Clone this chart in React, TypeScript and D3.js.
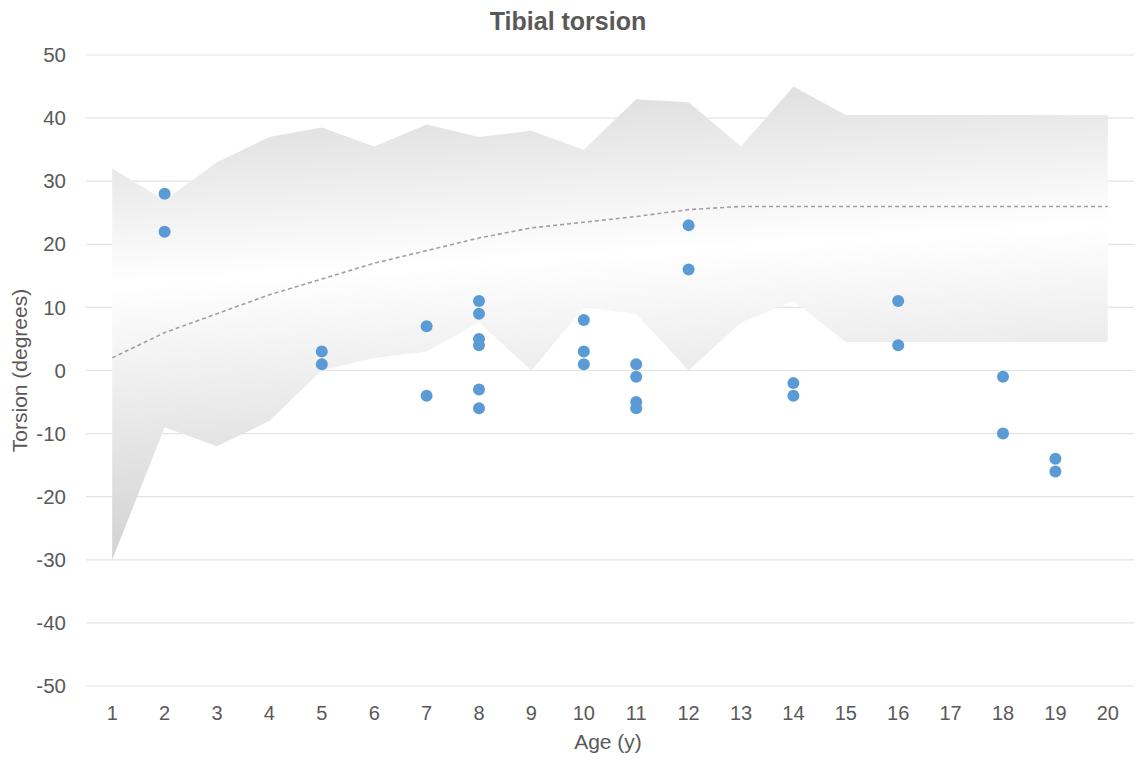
import * as d3 from "d3";
import React from "react";

// ages on the category axis
const ages = ["1", "2", "3", "4", "5", "6", "7", "8", "9", "10", "11", "12", "13", "14", "15", "16", "17", "18", "19", "20"];
// normal range (upper / lower bound) and mean
const upper = [32, 27, 33, 37, 38.5, 35.5, 39, 37, 38, 35, 43, 42.5, 35.5, 45, 40.5, 40.5, 40.5, 40.5, 40.5, 40.5];
const lower = [-30, -9, -12, -8, 0, 2, 3, 7.6, 0, 10, 9, 0, 7.6, 11, 4.5, 4.5, 4.5, 4.5, 4.5, 4.5];
const mean = [2, 6, 9, 12, 14.5, 17, 19, 21, 22.6, 23.5, 24.4, 25.5, 26, 26, 26, 26, 26, 26, 26, 26];
// patients
const pointAges = ["2", "2", "5", "5", "7", "7", "8", "8", "8", "8", "8", "8", "10", "10", "10", "11", "11", "11", "11", "12", "12", "14", "14", "16", "16", "18", "18", "19", "19"];
const pointValues = [28, 22, 3, 1, 7, -4, 11, 9, 5, 4, -3, -6, 8, 3, 1, 1, -1, -5, -6, 23, 16, -2, -4, 11, 4, -1, -10, -14, -16];
const yTicks = [-50, -40, -30, -20, -10, 0, 10, 20, 30, 40, 50];

const width = 1148;
const height = 761;
const margin = { top: 55, right: 14, bottom: 75, left: 86 };
const font = "'Liberation Sans', Arial, sans-serif";
const textColor = "#595959";

export default function App() {
    const x = d3
        .scaleBand()
        .domain(ages)
        .range([margin.left, width - margin.right]);
    const cx = (a: string) => (x(a) as number) + x.bandwidth() / 2;
    const y = d3
        .scaleLinear()
        .domain([-50, 50])
        .range([height - margin.bottom, margin.top]);

    const band = d3
        .area<number>()
        .x((d, i) => cx(ages[i]))
        .y0((d, i) => y(lower[i]))
        .y1((d) => y(d));
    const meanLine = d3
        .line<number>()
        .x((d, i) => cx(ages[i]))
        .y((d) => y(d));

    return (
        <svg
            width={width}
            height={height}
            style={{ position: "absolute", left: 0, top: 0, background: "#fff" }}
        >
            <defs>
                <linearGradient
                    id="bandFill"
                    gradientUnits="userSpaceOnUse"
                    x1={570}
                    y1={70}
                    x2={600}
                    y2={560}
                >
                    <stop offset="0" stopColor="#dadada" />
                    <stop offset="0.38" stopColor="#ffffff" />
                    <stop offset="1" stopColor="#cdcdcd" />
                </linearGradient>
            </defs>
            <text
                x={568}
                y={30}
                textAnchor="middle"
                fontFamily={font}
                fontSize={25}
                fontWeight="bold"
                fill={textColor}
            >
                Tibial torsion
            </text>
            {yTicks.map((t) => (
                <g key={t}>
                    <line
                        x1={margin.left}
                        x2={width - margin.right}
                        y1={y(t)}
                        y2={y(t)}
                        stroke="#e3e3e3"
                        strokeWidth={1.2}
                    />
                    <text
                        x={66}
                        y={y(t)}
                        dy="0.35em"
                        textAnchor="end"
                        fontFamily={font}
                        fontSize={20.5}
                        fill={textColor}
                    >
                        {t}
                    </text>
                </g>
            ))}
            <path d={band(upper) ?? ""} fill="url(#bandFill)" />
            <path
                d={meanLine(mean) ?? ""}
                fill="none"
                stroke="#a0a0a0"
                strokeWidth={1.6}
                strokeDasharray="4,3"
            />
            {pointValues.map((v, i) => (
                <circle key={i} cx={cx(pointAges[i])} cy={y(v)} r={6} fill="#5b9bd5" />
            ))}
            {ages.map((a) => (
                <text
                    key={a}
                    x={cx(a)}
                    y={720}
                    textAnchor="middle"
                    fontFamily={font}
                    fontSize={20}
                    fill={textColor}
                >
                    {a}
                </text>
            ))}
            <text
                x={608}
                y={749}
                textAnchor="middle"
                fontFamily={font}
                fontSize={21}
                fill={textColor}
            >
                Age (y)
            </text>
            <text
                transform={`translate(27, ${(margin.top + height - margin.bottom) / 2}) rotate(-90)`}
                textAnchor="middle"
                fontFamily={font}
                fontSize={21}
                fill={textColor}
            >
                Torsion (degrees)
            </text>
        </svg>
    );
}
